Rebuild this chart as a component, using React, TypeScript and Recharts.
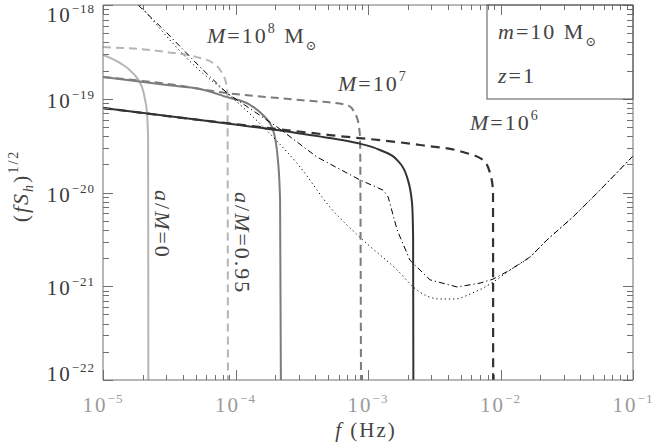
import React from "react";
import { LineChart, Line, XAxis, YAxis } from "recharts";

// [f (Hz), (f S_h)^1/2] pairs
const m8Spin0 = [[1e-5, 2.93e-19], [1.34e-5, 2.41e-19], [1.68e-5, 1.88e-19], [1.97e-5, 1.33e-19], [2.08e-5, 9.7e-20], [2.15e-5, 7.0e-20], [2.19e-5, 3.6e-20], [2.2e-5, 1e-22]];
const m8Spin95 = [[1e-5, 3.56e-19], [3.04e-5, 3.15e-19], [5.4e-5, 2.72e-19], [6.76e-5, 2.41e-19], [7.91e-5, 1.88e-19], [8.48e-5, 1.47e-19], [8.7e-5, 1.1e-19], [8.77e-5, 1e-22]];
const m7Spin0 = [[1e-5, 1.71e-19], [3.04e-5, 1.4e-19], [5.4e-5, 1.27e-19], [8.63e-5, 1.04e-19], [1.29e-4, 8.58e-20], [1.61e-4, 6.71e-20], [1.92e-4, 4.64e-20], [2.09e-4, 2.22e-20], [2.17e-4, 8.3e-21], [2.2e-4, 1e-22]];
const m7Spin95 = [[1e-5, 1.71e-19], [3.04e-5, 1.44e-19], [8.63e-5, 1.15e-19], [3.07e-4, 9.7e-20], [6.95e-4, 8.58e-20], [8.27e-4, 6.24e-20], [8.71e-4, 3.91e-20], [8.85e-4, 1e-22]];
const m6Spin0 = [[1e-5, 7.96e-20], [5.4e-5, 5.93e-20], [2.06e-4, 4.64e-20], [5.16e-4, 3.81e-20], [8.27e-4, 3.37e-20], [1.23e-3, 2.84e-20], [1.66e-3, 2.22e-20], [1.97e-3, 1.46e-20], [2.15e-3, 7.73e-21], [2.19e-3, 3.35e-21], [2.2e-3, 1e-22]];
const m6Spin95 = [[1e-5, 7.96e-20], [5.4e-5, 5.93e-20], [2.06e-4, 4.76e-20], [5.16e-4, 4.1e-20], [2.47e-3, 3.21e-20], [5.21e-3, 2.7e-20], [7.38e-3, 2.22e-20], [8.34e-3, 1.61e-20], [8.78e-3, 1.06e-20], [8.8e-3, 1e-22]];
const noiseDashDot = [[1.84e-5, 1e-18], [3.04e-5, 5.03e-19], [5.4e-5, 2.18e-19], [8.63e-5, 1.15e-19], [2.06e-4, 5.0e-20], [4.12e-4, 2.39e-20], [8.71e-4, 1.36e-20], [1.3e-3, 1.06e-20], [1.42e-3, 8.95e-21], [1.66e-3, 3.98e-21], [2.07e-3, 1.9e-21], [2.94e-3, 1.17e-21], [4.7e-3, 9.82e-22], [7.01e-3, 1.08e-21], [8.78e-3, 1.19e-21], [1.18e-2, 1.49e-21], [1.67e-2, 2.05e-21], [2.24e-2, 3.11e-21], [3.52e-2, 5.48e-21], [5.63e-2, 1.06e-20], [1e-1, 2.45e-20]];
const noiseDotted = [[1.9e-5, 1e-18], [5.4e-5, 1.98e-19], [8.63e-5, 1.15e-19], [1.92e-4, 3.91e-20], [3.07e-4, 1.87e-20], [5.16e-4, 7.0e-21], [9.16e-4, 3.11e-21], [1.66e-3, 1.49e-21], [2.34e-3, 9.12e-22], [3.49e-3, 7.31e-22], [4.54e-3, 7.31e-22], [5.89e-3, 8.26e-22], [7.38e-3, 9.57e-22], [9.08e-3, 1.14e-21], [1.18e-2, 1.49e-21], [1.67e-2, 2.05e-21], [2.24e-2, 3.11e-21], [3.52e-2, 5.48e-21], [5.63e-2, 1.06e-20], [1e-1, 2.45e-20]];

const xDecades = [1e-5, 1e-4, 1e-3, 1e-2, 1e-1];
const yDecades = [1e-22, 1e-21, 1e-20, 1e-19, 1e-18];
const minorMantissas = [2, 3, 4, 5, 6, 7, 8, 9];

const withMinor = (decades) =>
  decades.flatMap((d, i) => (i < decades.length - 1 ? [d, ...minorMantissas.map((m) => m * d)] : [d]));
const xTicks = withMinor(xDecades);
const yTicks = withMinor(yDecades);

const toPoints = (pairs) => pairs.map(([f, h]) => ({ f, h }));

const AXIS = "#707070";
const SERIF = "'Liberation Serif', 'DejaVu Serif', serif";
// plot frame edges (chart margins + axis sizes below)
const PLOT_TOP = 5;
const PLOT_BOTTOM = 380;
const PLOT_RIGHT = 633;

const isMajor = (v) => {
  const e = Math.log10(v);
  return Math.abs(e - Math.round(e)) < 1e-6;
};
const expOf = (v) => Math.round(Math.log10(v)).toString().replace("-", "\u2212");

// bottom tick also draws its mirror on the top edge; ticks point inward
const BottomTick = (props) => {
  const { x, payload } = props;
  const major = isMajor(payload.value);
  const len = major ? 10 : 5;
  const px = Math.round(x);
  return (
    <g>
      <rect x={px} y={PLOT_BOTTOM - len} width={1} height={len} fill={AXIS} />
      <rect x={px} y={PLOT_TOP} width={1} height={len} fill={AXIS} />
      {major && (
        <text x={x} y={PLOT_BOTTOM + 32} textAnchor="middle" fill="#9a9a9a" fontFamily={SERIF} fontSize={21} letterSpacing={2}>
          10<tspan dy={-9} fontSize={13} letterSpacing={1}>{expOf(payload.value)}</tspan>
        </text>
      )}
    </g>
  );
};

// left tick also draws its mirror on the right edge
const LeftTick = (props) => {
  const { x, y, payload } = props;
  const v = payload.value;
  const major = isMajor(v);
  const len = major ? 10 : 6;
  const py = Math.round(y);
  let base = y + 9;
  if (v > 5e-19) base = y + 17;
  if (v < 2e-22) base = y + 1;
  return (
    <g>
      <rect x={x} y={py} width={len} height={1} fill={AXIS} />
      <rect x={PLOT_RIGHT - len} y={py} width={len} height={1} fill={AXIS} />
      {major && (
        <text x={x - 8} y={base} textAnchor="end" fill="#3a3a3a" fontFamily={SERIF} fontSize={21} letterSpacing={2}>
          10<tspan dy={-9} fontSize={13} letterSpacing={1}>{expOf(v)}</tspan>
        </text>
      )}
    </g>
  );
};

const series = [
  { name: "m8a0", data: m8Spin0, stroke: "#b5b5b5", width: 2, dash: undefined },
  { name: "m8a95", data: m8Spin95, stroke: "#b5b5b5", width: 2, dash: "8 5" },
  { name: "m7a0", data: m7Spin0, stroke: "#7c7c7c", width: 2, dash: undefined },
  { name: "m7a95", data: m7Spin95, stroke: "#7c7c7c", width: 2, dash: "8 5" },
  { name: "m6a0", data: m6Spin0, stroke: "#333333", width: 2, dash: undefined },
  { name: "m6a95", data: m6Spin95, stroke: "#333333", width: 2.2, dash: "9 6" },
];

function Annotations() {
  const txt = { fontFamily: SERIF, fontSize: 22, fill: "#444", letterSpacing: 2 };
  const it = { fontStyle: "italic" };
  return (
    <svg width={653} height={446} style={{ position: "absolute", left: 0, top: 0, pointerEvents: "none" }}>
      <rect x={487} y={5} width={146} height={94} fill="none" stroke="#555" />
      <text x={207} y={43} {...txt}>
        <tspan {...it}>M</tspan>=10<tspan dy={-10} fontSize={14}>8</tspan>
        <tspan dy={10}>{"  M"}</tspan><tspan dy={7} fontSize={13}>{"\u2299"}</tspan>
      </text>
      <text x={338} y={91} {...txt}>
        <tspan {...it}>M</tspan>=10<tspan dy={-10} fontSize={14}>7</tspan>
      </text>
      <text x={470} y={130} {...txt}>
        <tspan {...it}>M</tspan>=10<tspan dy={-10} fontSize={14}>6</tspan>
      </text>
      <text x={498} y={39} {...txt}>
        <tspan {...it}>m</tspan>=10<tspan>{"  M"}</tspan><tspan dy={7} fontSize={13}>{"\u2299"}</tspan>
      </text>
      <text x={498} y={83} {...txt}>
        <tspan {...it}>z</tspan>=1
      </text>
      <text transform="translate(155,190) rotate(90)" {...txt}>
        <tspan {...it}>a</tspan>/<tspan {...it}>M</tspan>=0
      </text>
      <text transform="translate(235,192) rotate(90)" {...txt}>
        <tspan {...it}>a</tspan>/<tspan {...it}>M</tspan>=0.95
      </text>
      <text x={366} y={437} textAnchor="middle" {...txt} fontSize={21}>
        <tspan {...it}>f</tspan> (Hz)
      </text>
      <text transform="translate(28,186) rotate(-90)" textAnchor="middle" {...txt} fontSize={22}>
        (<tspan {...it}>fS</tspan><tspan dy={5} fontSize={14} {...it}>h</tspan><tspan dy={-5}>)</tspan>
        <tspan dy={-10} fontSize={14}>1/2</tspan>
      </text>
    </svg>
  );
}

export default function App() {
  return (
    <div style={{ position: "absolute", left: 0, top: 0, width: 653, height: 446, background: "#fff" }}>
      <LineChart width={653} height={446} margin={{ top: 0, right: 0, left: 0, bottom: 0 }}>
        <XAxis
          dataKey="f"
          type="number"
          scale="log"
          domain={[1e-5, 1e-1]}
          allowDataOverflow
          ticks={xTicks}
          interval={0}
          tickSize={0}
          tickMargin={0}
          height={66}
          axisLine={{ stroke: AXIS }}
          tick={BottomTick}
        />
        <XAxis
          xAxisId="top"
          orientation="top"
          dataKey="f"
          type="number"
          scale="log"
          domain={[1e-5, 1e-1]}
          allowDataOverflow
          height={5}
          axisLine={{ stroke: AXIS }}
          tickLine={false}
          tick={false}
        />
        <YAxis
          dataKey="h"
          type="number"
          scale="log"
          domain={[1e-22, 1e-18]}
          allowDataOverflow
          ticks={yTicks}
          interval={0}
          tickSize={0}
          tickMargin={0}
          width={103}
          axisLine={{ stroke: AXIS }}
          tick={LeftTick}
        />
        <YAxis
          yAxisId="right"
          orientation="right"
          dataKey="h"
          type="number"
          scale="log"
          domain={[1e-22, 1e-18]}
          allowDataOverflow
          width={20}
          axisLine={{ stroke: AXIS }}
          tickLine={false}
          tick={false}
        />
        {series.map((s) => (
          <Line
            key={s.name}
            data={toPoints(s.data)}
            dataKey="h"
            type="monotone"
            stroke={s.stroke}
            strokeWidth={s.width}
            strokeDasharray={s.dash}
            dot={false}
            isAnimationActive={false}
          />
        ))}
        <Line data={toPoints(noiseDotted)} dataKey="h" type="monotone" stroke="#000" strokeWidth={1} strokeDasharray="1.2 3" dot={false} isAnimationActive={false} />
        <Line data={toPoints(noiseDashDot)} dataKey="h" type="linear" stroke="#000" strokeWidth={1} strokeDasharray="6 3 1.2 3" dot={false} isAnimationActive={false} />
        <Line xAxisId="top" yAxisId="right" data={toPoints(noiseDashDot)} dataKey="h" stroke="none" dot={false} legendType="none" isAnimationActive={false} />
      </LineChart>
      <Annotations />
    </div>
  );
}
